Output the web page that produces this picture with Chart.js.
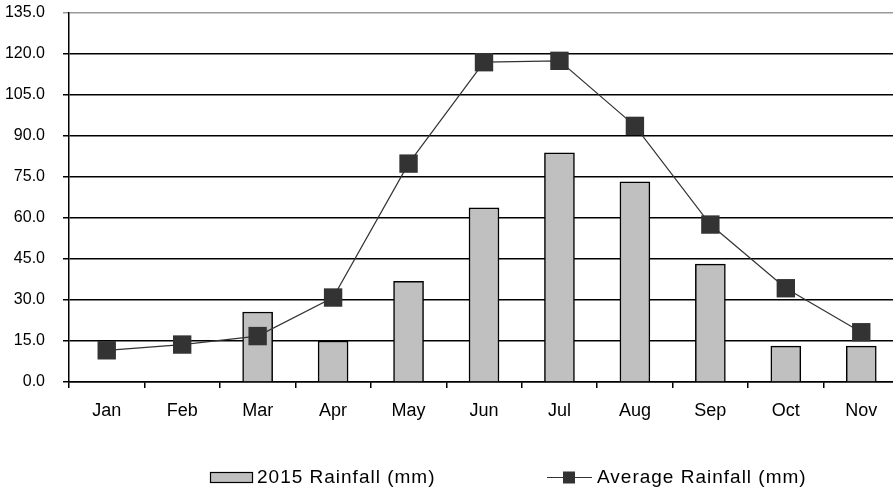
<!DOCTYPE html>
<html>
<head>
<meta charset="utf-8">
<script src="https://cdn.jsdelivr.net/npm/chart.js@4/dist/chart.umd.min.js"></script>
<style>
html,body{margin:0;padding:0;background:#fff;overflow:hidden;}
#wrap{width:900px;height:491px;}
</style>
</head>
<body>
<div id="wrap"><canvas id="c" width="900" height="491"></canvas></div>
<script>
const categories = ['Jan','Feb','Mar','Apr','May','Jun','Jul','Aug','Sep','Oct','Nov'];
const rainfall2015 = [0, 0, 25.6, 15.0, 36.8, 63.7, 83.8, 73.2, 43.1, 13.1, 13.1];
const averageRainfall = [11.6, 13.7, 16.8, 30.9, 79.9, 117.0, 117.5, 93.7, 57.6, 34.3, 18.2];
const yTicks = [0, 15, 30, 45, 60, 75, 90, 105, 120, 135];
const seriesNames = ['2015 Rainfall (mm)', 'Average Rainfall (mm)'];

const FONT = '"Liberation Sans", Arial, sans-serif';

const legendPlugin = {
  id: 'customLegend',
  afterDraw(chart) {
    const ctx = chart.ctx;
    ctx.save();
    const cy = 477.5;
    ctx.fillStyle = '#c0c0c0';
    ctx.fillRect(210, 472, 43, 11);
    ctx.strokeStyle = '#000';
    ctx.lineWidth = 1.2;
    ctx.strokeRect(210.5, 472.5, 42, 10);
    ctx.font = '19px ' + FONT;
    ctx.fillStyle = '#000';
    ctx.textBaseline = 'middle';
    ctx.textAlign = 'left';
    try { ctx.letterSpacing = '1px'; } catch(e) {}
    ctx.fillText(seriesNames[0], 257, cy);
    ctx.strokeStyle = '#333';
    ctx.lineWidth = 1.2;
    ctx.beginPath();
    ctx.moveTo(547, cy);
    ctx.lineTo(592, cy);
    ctx.stroke();
    ctx.fillStyle = '#333';
    ctx.fillRect(563, cy - 6, 12, 12);
    ctx.fillStyle = '#000';
    ctx.fillText(seriesNames[1], 597, cy);
    ctx.restore();
  }
};

new Chart(document.getElementById('c'), {
  data: {
    labels: categories,
    datasets: [
      {
        type: 'line',
        label: seriesNames[1],
        data: averageRainfall,
        borderColor: '#333',
        borderWidth: 1.2,
        backgroundColor: '#333',
        pointStyle: 'rect',
        pointRadius: 13,
        pointHoverRadius: 13,
        pointBackgroundColor: '#333',
        pointBorderColor: '#333',
        pointBorderWidth: 0,
        tension: 0,
        clip: false,
        order: 0
      },
      {
        type: 'bar',
        label: seriesNames[0],
        data: rainfall2015,
        backgroundColor: '#c0c0c0',
        borderColor: '#000',
        borderWidth: 1.5,
        borderSkipped: 'bottom',
        barThickness: 30,
        order: 1
      }
    ]
  },
  options: {
    responsive: false,
    animation: false,
    layout: { autoPadding: false, padding: { top: 13, right: 1, left: 0, bottom: 0 } },
    plugins: { legend: { display: false }, tooltip: { enabled: false } },
    scales: {
      x: {
        type: 'category',
        offset: true,
        grid: {
          offset: true,
          drawOnChartArea: false,
          drawTicks: true,
          tickLength: 6,
          color: '#000',
          lineWidth: 1.5
        },
        border: { color: '#000', width: 1.5 },
        ticks: {
          color: '#000',
          font: { family: FONT, size: 18 },
          padding: 12,
          maxRotation: 0,
          autoSkip: false
        },
        afterFit(scale) { scale.height = 109; scale.paddingLeft = 0; scale.paddingRight = 0; }
      },
      y: {
        min: 0,
        max: 135,
        afterBuildTicks(scale) { scale.ticks = yTicks.map(v => ({ value: v })); },
        grid: {
          color: (c) => (c.tick && c.tick.value === 135) ? '#999' : '#000',
          lineWidth: 1.5,
          tickLength: 6,
          drawTicks: true
        },
        border: { color: '#000', width: 1.5 },
        ticks: {
          color: '#000',
          font: { family: FONT, size: 16 },
          padding: 18,
          callback: (v) => Number(v).toFixed(1)
        },
        afterFit(scale) { scale.width = 69; scale.paddingTop = 0; scale.paddingBottom = 0; }
      }
    }
  },
  plugins: [legendPlugin]
});
</script>
</body>
</html>
